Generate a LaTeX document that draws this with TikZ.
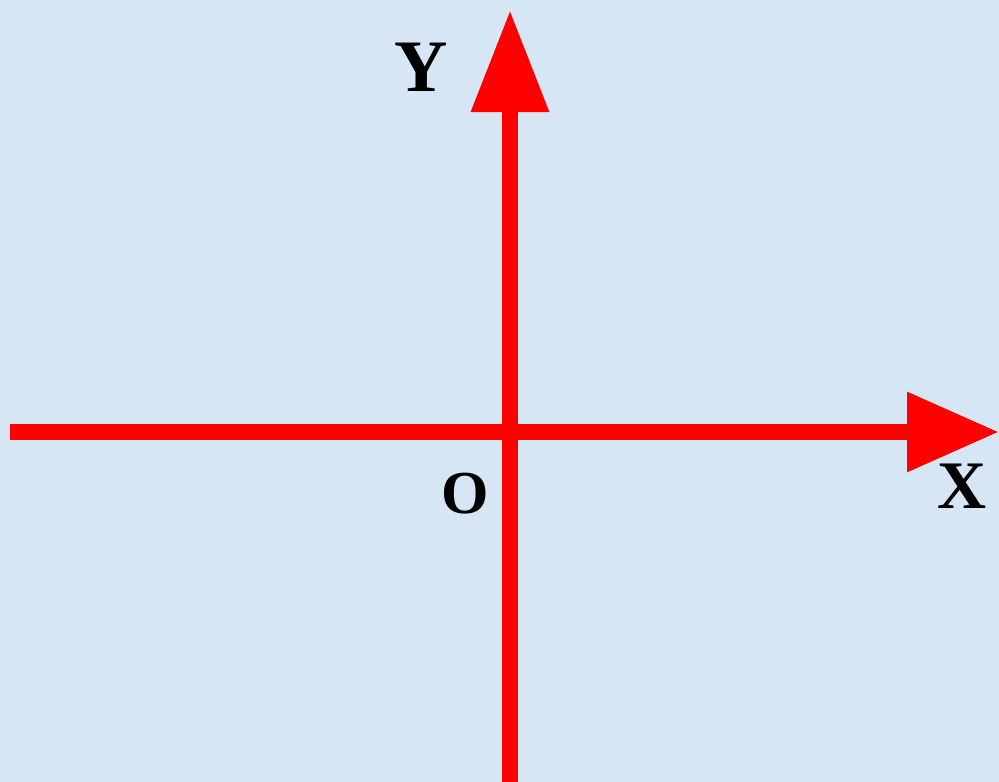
\documentclass[tikz,border=0pt]{standalone}
\usepackage{fontspec}
\setmainfont{Liberation Serif}
\usetikzlibrary{arrows.meta}
\definecolor{bgblue}{RGB}{214,230,244}
\definecolor{axisred}{RGB}{255,0,0}
\tikzset{
  axisline/.style={draw=axisred, line width=16pt, line cap=butt},
  axislabel/.style={inner sep=0pt, text=black}
}
\begin{document}
\begin{tikzpicture}[x=1pt,y=-1pt]
  \useasboundingbox (0,0) rectangle (999,782);
  \fill[bgblue] (0,0) rectangle (999,782);
  \coordinate (xs) at (10,432);
  \coordinate (xe) at (999,432);
  \coordinate (ys) at (510,782);
  \coordinate (ye) at (510,10);
  \draw[axisline, -{Triangle[length=92pt,width=76pt]}, axisred] (xs) -- (xe);
  \draw[axisline, -{Triangle[length=102pt,width=74pt]}, axisred] (ys) -- (ye);
  \node[axislabel, font=\fontsize{74}{74}\selectfont\bfseries] (ylab) at (421,67) {Y};
  \node[axislabel, font=\fontsize{68}{68}\selectfont\bfseries] (xlab) at (962,486) {X};
  \node[axislabel, font=\fontsize{61}{61}\selectfont\bfseries] (olab) at (465,494) {O};
\end{tikzpicture}
\end{document}
